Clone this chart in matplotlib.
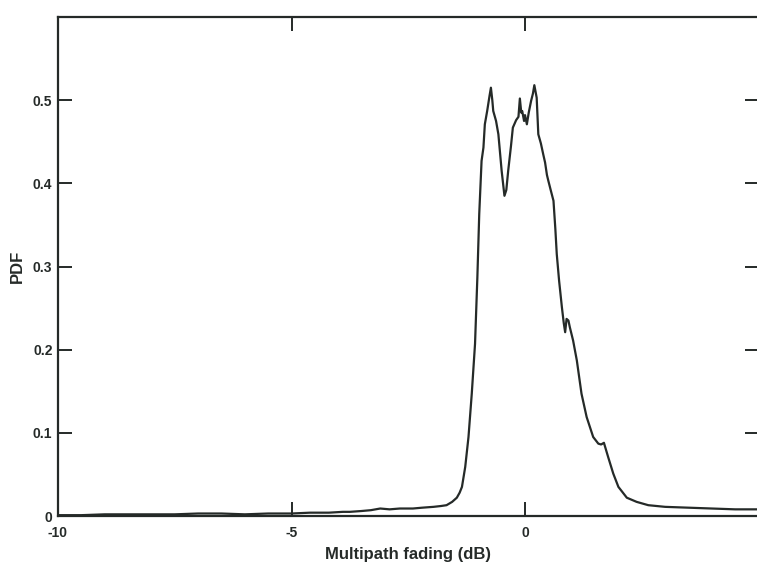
import matplotlib
matplotlib.use("Agg")
import matplotlib.pyplot as plt

# Multipath fading PDF curve
fading_db = [-10.0, -9.5, -9.0, -8.5, -8.0, -7.5, -7.0, -6.5, -6.0, -5.5, -5.0, -4.6, -4.2,
             -3.9, -3.75, -3.5, -3.3, -3.1, -2.9, -2.68, -2.4, -2.2, -1.96, -1.8, -1.68,
             -1.56, -1.46, -1.40, -1.35, -1.28, -1.21, -1.14, -1.07, -1.02, -0.98, -0.93,
             -0.89, -0.86, -0.81, -0.76, -0.73, -0.70, -0.68, -0.62, -0.57, -0.50, -0.44,
             -0.40, -0.36, -0.30, -0.26, -0.19, -0.14, -0.11, -0.08, -0.06, -0.02, 0.0,
             0.04, 0.08, 0.13, 0.17, 0.20, 0.25, 0.285, 0.34, 0.39, 0.43, 0.47, 0.50, 0.55, 0.61,
             0.65, 0.68, 0.73, 0.79, 0.83, 0.86, 0.89, 0.93, 0.96, 1.03, 1.11, 1.21, 1.32, 1.46,
             1.57, 1.63, 1.69, 1.78, 1.89, 2.00, 2.18, 2.39, 2.64, 3.0, 3.5, 4.0, 4.5, 5.0]
pdf = [0.001, 0.001, 0.002, 0.002, 0.002, 0.002, 0.003, 0.003, 0.002, 0.003, 0.003, 0.004, 0.004,
       0.005, 0.005, 0.006, 0.007, 0.009, 0.008, 0.009, 0.009, 0.010, 0.011, 0.012, 0.013,
       0.017, 0.022, 0.028, 0.035, 0.059, 0.095, 0.147, 0.207, 0.287, 0.363, 0.427,
       0.443, 0.471, 0.487, 0.505, 0.515, 0.500, 0.487, 0.475, 0.459, 0.415, 0.385,
       0.392, 0.415, 0.445, 0.467, 0.476, 0.480, 0.502, 0.485, 0.487, 0.475, 0.482,
       0.471, 0.485, 0.499, 0.508, 0.518, 0.503, 0.459, 0.448, 0.435, 0.425, 0.410, 0.403, 0.392, 0.379,
       0.345, 0.315, 0.283, 0.251, 0.232, 0.221, 0.237, 0.235, 0.227, 0.211, 0.187, 0.147, 0.119, 0.095,
       0.087, 0.086, 0.088, 0.071, 0.051, 0.035, 0.022, 0.017, 0.013, 0.011, 0.010, 0.009, 0.008, 0.008]

x_ticks = [-10, -5, 0]
x_tick_labels = ["-10", "-5", "0"]
y_ticks = [0, 0.1, 0.2, 0.3, 0.4, 0.5]
y_tick_labels = ["0", "0.1", "0.2", "0.3", "0.4", "0.5"]

plt.rcParams['font.family'] = ['Liberation Sans', 'DejaVu Sans']

fig = plt.figure(figsize=(7.57, 5.62), dpi=100)
ax = fig.add_axes([58 / 757, 46 / 562, 700.5 / 757, 499 / 562])
ink = "#252a28"
ax.plot(fading_db, pdf, color=ink, lw=1.6)
ax.set_xlim(-10, 5)
ax.set_ylim(0, 0.6)
ax.set_xticks(x_ticks)
ax.set_xticklabels(x_tick_labels)
ax.set_yticks(y_ticks)
ax.set_yticklabels(y_tick_labels)
ax.tick_params(direction='in', length=10, width=1.4, color=ink, top=True, right=True,
               labelsize=10, labelcolor=ink)
ax.tick_params(axis='x', pad=7)
ax.tick_params(axis='y', pad=4)
for lab in ax.get_xticklabels() + ax.get_yticklabels():
    lab.set_fontweight('bold')
for s in ax.spines.values():
    s.set_color(ink)
    s.set_linewidth(1.6)
ax.set_xlabel("Multipath fading (dB)", fontsize=12, fontweight='bold', color=ink, labelpad=5)
ax.set_ylabel("PDF", fontsize=12, fontweight='bold', color=ink, labelpad=6)
fig.savefig("out.png", dpi=100)
